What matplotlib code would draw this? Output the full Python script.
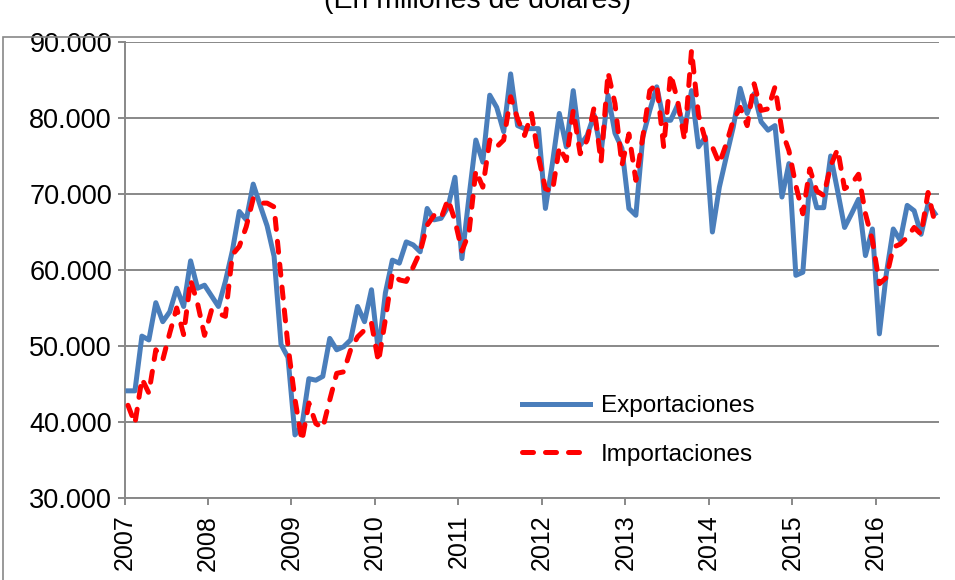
import numpy as np
import matplotlib
matplotlib.use("Agg")
import matplotlib.pyplot as plt
from matplotlib.patches import Rectangle

# Monthly values, Jan 2007 - Sep 2016 (millones de dolares)
years = [str(y) for y in range(2007, 2017)]

exportaciones = [
    44100, 44100, 51300, 50800, 55700, 53200, 54500, 57600, 55200, 61200, 57600, 58000,
    56600, 55200, 58500, 62500, 67700, 66600, 71300, 68500, 65800, 61800, 50200, 48500,
    38300, 39500, 45700, 45500, 46000, 51000, 49500, 49900, 50800, 55200, 53200, 57400,
    49200, 57000, 61300, 60900, 63700, 63300, 62400, 68100, 66600, 66800, 68300, 72200,
    61500, 69500, 77100, 74200, 83000, 81400, 78200, 85800, 79000, 78600, 78600, 78600,
    68100, 74000, 80600, 76200, 83600, 76400, 77700, 80400, 75500, 83000, 78000, 76000,
    68100, 67200, 77500, 81000, 84100, 79700, 79700, 81700, 78400, 83600, 76200, 77500,
    65000, 70900, 74900, 78800, 83900, 80600, 83200, 79500, 78400, 79000, 69600, 74000,
    59300, 59700, 71800, 68200, 68200, 75000, 70400, 65600, 67400, 69300, 61900, 65400,
    51600, 59500, 65400, 63900, 68500, 67800, 64700, 68700, 67400,
]

importaciones = [
    42200, 39800, 45700, 43800, 49500, 48200, 51700, 55000, 51500, 58700, 55600, 51400,
    54700, 54300, 53900, 62000, 63100, 65700, 69400, 68800, 68800, 68300, 59000, 50000,
    43000, 37500, 42500, 39800, 39200, 42900, 46400, 46600, 49500, 51200, 52100, 53000,
    47900, 53500, 59600, 58700, 58500, 60400, 62400, 65900, 67200, 66800, 69300, 66500,
    62500, 64800, 73100, 70900, 77100, 76200, 77100, 82800, 79900, 77700, 80600, 74900,
    70700, 70300, 76200, 74400, 81000, 75300, 77100, 81400, 74200, 86000, 81900, 73800,
    77900, 71800, 77500, 83600, 84500, 76200, 85800, 82300, 77100, 88900, 80400, 77100,
    76200, 74000, 76600, 79700, 81400, 79000, 84500, 81000, 81200, 84100, 78300, 75700,
    71100, 67400, 73300, 70400, 69800, 73700, 75900, 70700, 71300, 72600, 67400, 63900,
    58200, 59000, 63000, 63400, 64300, 65600, 64700, 70200, 66100,
]

plt.rcParams['font.family'] = ['Liberation Sans', 'DejaVu Sans']

W, H = 955, 580
fig = plt.figure(figsize=(W / 100, H / 100), dpi=100)
ax = fig.add_axes([124.5 / W, 1 - 498 / H, (938.5 - 124.5) / W, (498 - 42) / H])

x = np.arange(len(exportaciones))
ax.plot(x, exportaciones, color='#4A7EBB', lw=3.6, solid_joinstyle='round',
        label='Exportaciones', zorder=3)
ax.plot(x, importaciones, color='#FF0000', lw=3.6, linestyle=(0, (2.2, 2.4)),
        dash_capstyle='round', label='Importaciones', zorder=4)

ax.set_xlim(-0.5, len(exportaciones) - 0.5)
ax.set_ylim(30000, 90000)

ax.set_yticks(np.arange(30000, 90001, 10000))
ax.set_yticklabels([f"{int(v):,}".replace(",", ".") for v in ax.get_yticks()])
ax.set_xticks(np.arange(-0.5, len(exportaciones), 12))
ax.set_xticklabels(years, rotation=90)

ax.grid(axis='y', color='#888888', lw=1.4)
ax.set_axisbelow(True)
for s in ['top', 'right']:
    ax.spines[s].set_visible(False)
for s in ['left', 'bottom']:
    ax.spines[s].set_color('#888888')
    ax.spines[s].set_linewidth(1.4)
ax.tick_params(axis='both', colors='#888888', labelcolor='black',
               length=5, width=1.4)
ax.tick_params(axis='y', pad=4, labelsize=19.5)
ax.tick_params(axis='x', pad=7, labelsize=18)

ax.legend(loc='upper left', bbox_to_anchor=(522 / W, 1 - 395 / H),
          bbox_transform=fig.transFigure, frameon=False, fontsize=17.5,
          handlelength=2.8, handletextpad=0.45, labelspacing=1.1,
          borderpad=0, borderaxespad=0)

fig.text(0.5, 1 - 8 / H, '(En millones de dólares)', ha='center', va='baseline',
         fontsize=20.5)

fig.patches.append(Rectangle((3 / W, -0.05), 1.1, 1 - 37 / H + 0.05,
                             transform=fig.transFigure, fill=False,
                             edgecolor='#888888', lw=1.2))

fig.savefig('out.png', dpi=100)
